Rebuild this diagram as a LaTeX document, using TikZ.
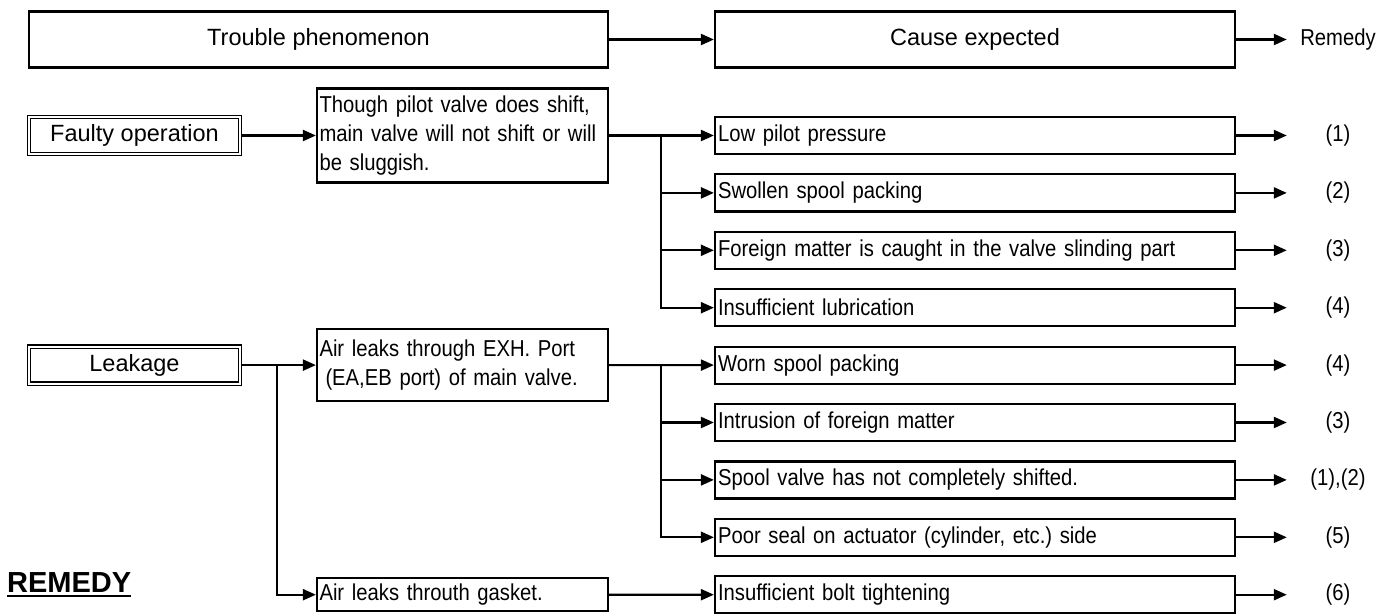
\documentclass[tikz,border=0pt]{standalone}
\usepackage{fontspec}
\setmainfont{Liberation Sans}
\newfontfamily\narrowfam[FakeStretch=0.88]{Liberation Sans}
\usetikzlibrary{arrows.meta}
\frenchspacing
\newcommand{\bodyfont}{\narrowfam\fontsize{23pt}{29pt}\selectfont}
\newcommand{\hdfont}{\fontsize{23.5pt}{28pt}\selectfont}
\newcommand{\remfont}{\fontsize{29pt}{34pt}\selectfont\bfseries}
\tikzset{
  hbox/.style={
    rectangle,
    draw=black,
    line width=2.2pt,
    minimum height=56pt,
    inner sep=0,
    font=\hdfont,
  },
  pbox/.style={
    rectangle,
    draw=black,
    line width=2.2pt,
    text width=286pt,
    inner xsep=2.5pt,
    inner ysep=0,
    align=left,
    font=\bodyfont,
  },
  cbox/.style={
    rectangle,
    draw=black,
    line width=2.2pt,
    text width=514pt,
    inner xsep=3pt,
    inner ysep=0,
    minimum height=37pt,
    align=left,
    font=\bodyfont,
    node distance=57.4pt,
  },
  kind/.style={
    rectangle,
    draw=black,
    double,
    line width=1.4pt,
    double distance=1.8pt,
    minimum width=211pt,
    minimum height=37pt,
    inner sep=0,
    font=\hdfont,
  },
  rem/.style={
    minimum width=102pt,
    inner sep=0,
    font=\bodyfont,
    node distance=363pt,
  },
  arr/.style={
    -{Triangle[length=13pt,width=11pt]},
    line width=2.2pt,
  }
}

\begin{document}
\begin{tikzpicture}[x=1pt,y=-1pt]
  \useasboundingbox (0,0) rectangle (1390,615);

  % header
  \node[hbox,minimum width=579pt] at (318.5,39.5) (trouble) {Trouble phenomenon};
  \node[hbox,minimum width=520pt] at (975,39.5) (cause) {Cause expected};
  \node[rem,right of=cause] (remedy) {Remedy};
  \draw[arr] (trouble) -- (cause);
  \draw[arr] (cause) -- (remedy);

  % faulty operation
  \node[kind] at (134.5,135.5) (faulty) {Faulty operation};
  \node[pbox,minimum height=94pt] at (462.5,135.5) (shift) {Though pilot valve does shift,\\main valve will not shift or will\\be sluggish.};
  \draw[arr] (faulty) -- (shift);

  \node[cbox] at (975,135.5) (pilot) {Low pilot pressure};
  \node[cbox,below of=pilot] (swollen) {Swollen spool packing};
  \node[cbox,below of=swollen] (foreign) {Foreign matter is caught in the valve slinding part};
  \node[cbox,below of=foreign] (lube) {Insufficient lubrication};

  \coordinate (fork1) at (661,135.5);
  \draw[arr] (shift) -- (pilot);
  \draw[arr] (fork1) |- (swollen);
  \draw[arr] (fork1) |- (foreign);
  \draw[arr] (fork1) |- (lube);

  % leakage
  \node[kind] at (134.5,365.1) (leak) {Leakage};
  \node[pbox,minimum height=72pt] at (462.5,365.1) (exh) {Air leaks through EXH. Port\\\hspace*{6pt}(EA,EB port) of main valve.};
  \node[pbox,minimum height=33pt] at (462.5,594.7) (gasket) {Air leaks throuth gasket.};
  \coordinate (fork2) at (277,365.1);
  \draw[arr] (leak) -- (exh);
  \draw[arr] (fork2) |- (gasket);

  \node[cbox,below of=lube] (worn) {Worn spool packing};
  \node[cbox,below of=worn] (intrusion) {Intrusion of foreign matter};
  \node[cbox,below of=intrusion] (notshifted) {Spool valve has not completely shifted.};
  \node[cbox,below of=notshifted] (seal) {Poor seal on actuator (cylinder, etc.) side};
  \node[cbox,below of=seal] (bolt) {Insufficient bolt tightening};

  \coordinate (fork3) at (661,365.1);
  \draw[arr] (exh) -- (worn);
  \draw[arr] (fork3) |- (intrusion);
  \draw[arr] (fork3) |- (notshifted);
  \draw[arr] (fork3) |- (seal);
  \draw[arr] (gasket) -- (bolt);

  % remedies
  \node[rem,right of=pilot] (r1) {(1)};
  \node[rem,right of=swollen] (r2) {(2)};
  \node[rem,right of=foreign] (r3) {(3)};
  \node[rem,right of=lube] (r4) {(4)};
  \node[rem,right of=worn] (r5) {(4)};
  \node[rem,right of=intrusion] (r6) {(3)};
  \node[rem,right of=notshifted] (r7) {(1),(2)};
  \node[rem,right of=seal] (r8) {(5)};
  \node[rem,right of=bolt] (r9) {(6)};
  \draw[arr] (pilot) -- (r1);
  \draw[arr] (swollen) -- (r2);
  \draw[arr] (foreign) -- (r3);
  \draw[arr] (lube) -- (r4);
  \draw[arr] (worn) -- (r5);
  \draw[arr] (intrusion) -- (r6);
  \draw[arr] (notshifted) -- (r7);
  \draw[arr] (seal) -- (r8);
  \draw[arr] (bolt) -- (r9);

  \node[anchor=base west,inner sep=0,font=\remfont] at (7,592) (title) {REMEDY};
  \draw[line width=2.6pt] ([yshift=-4pt]title.base west) -- ([yshift=-4pt]title.base east);
\end{tikzpicture}
\end{document}
